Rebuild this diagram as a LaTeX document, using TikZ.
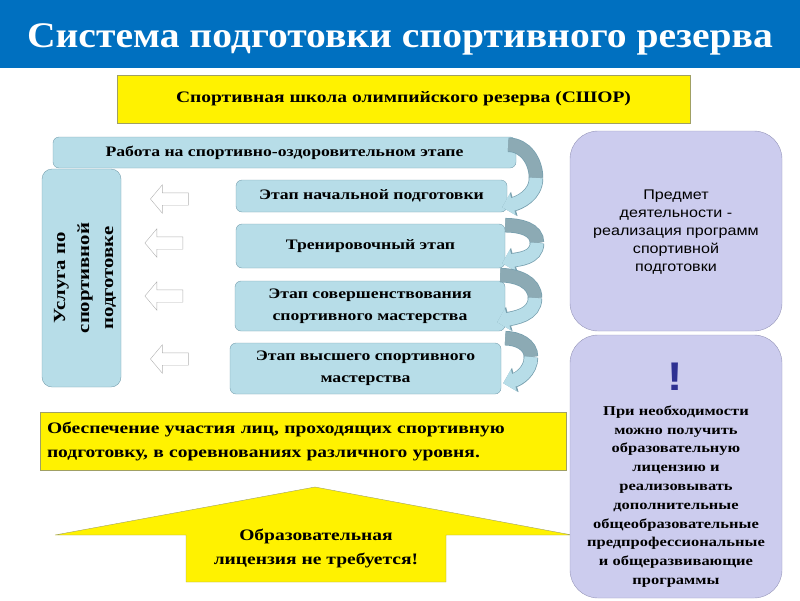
\documentclass[tikz,border=0pt]{standalone}
\usepackage{fontspec}
\setmainfont{Liberation Serif}[FakeStretch=1.22]
\newfontfamily\headf{Liberation Serif}[FakeStretch=1.1]
\newfontfamily\arialf{Liberation Sans}[FakeStretch=1.15]
\usepackage{xcolor}
\usetikzlibrary{
    shapes.arrows,
    arrows.meta
}

\definecolor{titleblue}{RGB}{0,112,192}
\definecolor{yellowbd}{RGB}{160,160,100}
\definecolor{stagefill}{RGB}{183,221,232}
\definecolor{stagebd}{RGB}{120,160,175}
\definecolor{lilac}{RGB}{204,204,238}
\definecolor{lilacbd}{RGB}{150,150,185}
\definecolor{bentdark}{RGB}{140,170,180}
\definecolor{excl}{RGB}{46,49,146}

\begin{document}
\begin{tikzpicture}[x=1pt,y=1pt]
    \tikzstyle{titlebar}=[rectangle, fill=titleblue, text=white, minimum width=800pt, minimum height=68pt, text height=30pt, text depth=4pt, font=\headf\fontsize{36}{40}\selectfont\bfseries]
    \tikzstyle{ybox}=[rectangle, draw=yellowbd, fill=yellow, font=\fontsize{16}{24}\selectfont\bfseries]
    \tikzstyle{stage}=[rectangle, rounded corners=6pt, draw=stagebd, fill=stagefill, align=center, font=\fontsize{14.5}{22}\selectfont\bfseries]
    \tikzstyle{lilacbox}=[rectangle, rounded corners=28pt, draw=lilacbd, fill=lilac, minimum width=212pt]
    \tikzstyle{back}=[single arrow, shape border rotate=180, draw=gray!60, fill=white, minimum height=38pt, single arrow head extend=8pt, single arrow tip angle=100, inner xsep=0pt, inner ysep=6pt]
    \tikzstyle{bentA}=[draw=bentdark, line width=13pt, preaction={draw=stagebd, line width=14.5pt}]
    \tikzstyle{bentB}=[draw=stagefill, line width=13pt, -{Triangle[width=22pt,length=11pt]}, preaction={draw=stagebd, line width=14.5pt, -{Triangle[width=24.5pt,length=12.5pt]}}]
    \useasboundingbox (0,0) rectangle (800,-600);

    \node [titlebar] (title) at (400,-34) {Система подготовки спортивного резерва};
    \node [ybox, minimum width=573pt, minimum height=48pt] (school) at (403.5,-99) {Спортивная школа олимпийского резерва (СШОР)};

    % stages
    \node [stage, minimum width=463pt, minimum height=31pt] (r0) at (284.5,-152.5) {Работа на спортивно-оздоровительном этапе};
    \node [stage, minimum width=271pt, minimum height=32pt] (s1) at (371.5,-196) {Этап начальной подготовки};
    \node [stage, minimum width=269pt, minimum height=44pt] (s2) at (370.5,-246) {Тренировочный этап};
    \node [stage, minimum width=270pt, minimum height=50pt] (s3) at (370,-306) {Этап совершенствования\\ спортивного мастерства};
    \node [stage, minimum width=271pt, minimum height=51pt] (s4) at (365.5,-368.5) {Этап высшего спортивного\\ мастерства};

    \node [stage, rounded corners=10pt, minimum width=79pt, minimum height=218pt] (usl) at (81.5,-278) {};
    \node [rotate=90, align=center, font=\fontsize{17}{24}\selectfont\bfseries] (uslt) at (85,-278) {Услуга по\\ спортивной\\ подготовке};

    \node [back] (l1) at (172,-199) {};
    \node [back] (l2) at (166.5,-243) {};
    \node [back] (l3) at (166.5,-296) {};
    \node [back] (l4) at (172,-359) {};

    % bent arrows between stages
    \coordinate (b1) at (536,-178);
    \coordinate (b2) at (537,-243);
    \coordinate (b3) at (535,-298);
    \coordinate (b4) at (531,-357);
    \draw [bentA] ([shift={(-8,-8)}]r0.north east) to[out=0,in=90] (b1);
    \draw [bentB] (b1) to[out=-90,in=15] ([shift={(-5,5)}]s1.south east);
    \draw [bentA] ([shift={(-2,-13)}]s1.south east) to[out=0,in=90] (b2);
    \draw [bentB] (b2) to[out=-90,in=15] ([shift={(-3,5)}]s2.south east);
    \draw [bentA] ([shift={(-5,-7)}]s2.south east) to[out=0,in=90] (b3);
    \draw [bentB] (b3) to[out=-90,in=15] ([shift={(-8,9)}]s3.south east);
    \draw [bentA] ([shift={(0,-7)}]s3.south east) to[out=0,in=90] (b4);
    \draw [bentB] (b4) to[out=-90,in=15] ([shift={(2,11)}]s4.south east);

    \node [ybox, minimum width=526pt, minimum height=58pt, text width=512pt, inner xsep=7pt, align=left] (part) at (303,-441) {Обеспечение участия лиц, проходящих спортивную\\ подготовку, в соревнованиях различного уровня.};

    \draw [draw=yellowbd, fill=yellow] (55,-535) -- (315,-487) -- (572,-535) -- (446,-535) -- (446,-582) -- (186,-582) -- (186,-535) -- cycle;
    \node [font=\fontsize{16}{24}\selectfont\bfseries, align=center] (lic) at (316,-548) {Образовательная\\ лицензия не требуется!};

    \node [lilacbox, minimum height=200pt] (subj) at (676,-231) {};
    \node [align=center, font=\arialf\fontsize{14}{18}\selectfont] (subjt) at (676,-232) {Предмет\\ деятельности -\\ реализация программ\\ спортивной\\ подготовки};
    \node [lilacbox, minimum height=263pt] (need) at (676,-466.5) {};
    \node [text=excl, font=\arialf\bfseries\fontsize{40}{40}\selectfont] (ex) at (675,-377) {!};
    \node [align=center, font=\fontsize{13.5}{18.8}\selectfont\bfseries] (needt) at (676,-496.5) {При необходимости\\ можно получить\\ образовательную\\ лицензию и\\ реализовывать\\ дополнительные\\ общеобразовательные\\ предпрофессиональные\\ и общеразвивающие\\ программы};
\end{tikzpicture}
\end{document}
